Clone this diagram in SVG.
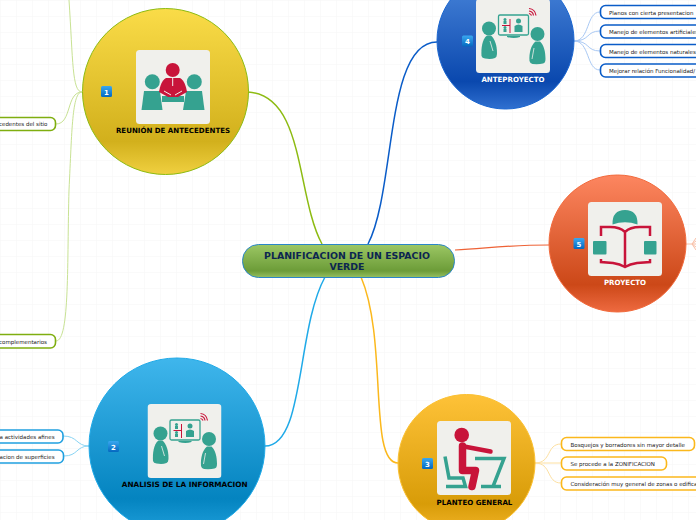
<svg xmlns="http://www.w3.org/2000/svg" xmlns:xlink="http://www.w3.org/1999/xlink" width="696" height="520" viewBox="0 0 696 520">
<style>
text{font-family:"DejaVu Sans",Verdana,sans-serif}
.t{font-size:5.5px;fill:#222;font-weight:400}
.l{font-size:7.05px;font-weight:700;text-anchor:middle}
.b{fill:#fff;stroke-width:1.6}
.n{font-size:7px;font-weight:700;fill:#fff;text-anchor:middle}
.teal{fill:#35a290}
.red{fill:#c8143a}
</style>
<defs>
<pattern id="grid" width="16" height="16" patternUnits="userSpaceOnUse"><path d="M16 0H0V16" fill="none" stroke="#f5f5f5" stroke-width="1"/></pattern>
<linearGradient id="g0" x1="0" y1="0" x2="0" y2="1"><stop offset="0" stop-color="#9cc764"/><stop offset=".8" stop-color="#6c9c38"/><stop offset="1" stop-color="#96c060"/></linearGradient>
<linearGradient id="g1" x1="0" y1="0" x2="0" y2="1"><stop offset="0" stop-color="#fadc48"/><stop offset=".8" stop-color="#d2b01c"/><stop offset="1" stop-color="#f0d040"/></linearGradient>
<linearGradient id="g2" x1="0" y1="0" x2="0" y2="1"><stop offset="0" stop-color="#3fb6ec"/><stop offset=".8" stop-color="#0484c0"/><stop offset="1" stop-color="#20a0dc"/></linearGradient>
<linearGradient id="g3" x1="0" y1="0" x2="0" y2="1"><stop offset="0" stop-color="#fec238"/><stop offset=".8" stop-color="#d89c08"/><stop offset="1" stop-color="#f2b428"/></linearGradient>
<linearGradient id="g4" x1="0" y1="0" x2="0" y2="1"><stop offset="0" stop-color="#4c88dc"/><stop offset=".8" stop-color="#0a48ae"/><stop offset="1" stop-color="#3070d0"/></linearGradient>
<linearGradient id="g5" x1="0" y1="0" x2="0" y2="1"><stop offset="0" stop-color="#fd8660"/><stop offset=".8" stop-color="#cc4818"/><stop offset="1" stop-color="#ee6a40"/></linearGradient>
<linearGradient id="bd" x1="0" y1="0" x2="0" y2="1"><stop offset="0" stop-color="#3aa8f0"/><stop offset="1" stop-color="#0468c0"/></linearGradient>
<symbol id="icon2" viewBox="0 0 74 74" width="74" height="74">
<rect width="74" height="74" rx="3.500" fill="#f0f0ec"/>
<circle class="teal" cx="13" cy="29.500" r="7"/>
<path class="teal" d="M11 36.500C6 40 5 50 5.500 57Q6 59 9 59.500Q15 60.500 19 59Q21 58 21 54C21 47 19 40 15 36.500Z"/>
<path d="M14 42L17 52" stroke="#f0f0ec" stroke-width=".8" fill="none"/>
<circle class="teal" cx="61.500" cy="35" r="7"/>
<path class="teal" d="M59.500 42.500C55 46 53 54 53.500 62Q54 64.500 56.500 65Q63 65.500 67 64.500Q69.500 64 69.500 60C69.500 53 68 46 64 42.500Z"/>
<path d="M58 49L56 60" stroke="#f0f0ec" stroke-width=".8" fill="none"/>
<rect x="22.500" y="16" width="30" height="20" rx="1.500" fill="#f0f0ec" stroke="#35a290" stroke-width="1.300"/>
<path class="teal" d="M31 37H44V38Q38 40 31 38Z"/>
<path d="M26 26.500H34M34 20V34" fill="none" stroke="#c8143a" stroke-width="1"/>
<circle class="teal" cx="29" cy="20.500" r="1.500"/><rect class="teal" x="27.500" y="22" width="3" height="3"/>
<circle class="teal" cx="29" cy="28.500" r="1.500"/><rect class="teal" x="27.500" y="30" width="3" height="3"/>
<circle class="teal" cx="42.500" cy="22" r="2.500"/><path class="teal" d="M38.500 33V27Q42.500 24 46.500 27V33Z"/>
<path d="M53 9.500Q59 10 60 16.500M53 12Q57 12.500 57.500 16.500M53 14.500Q55 15 55.500 16.500" fill="none" stroke="#c8143a" stroke-width="1.200"/>
</symbol>
</defs>
<rect width="696" height="520" fill="#fff"/>
<rect width="696" height="520" fill="url(#grid)"/>

<g id="connectors">
<path d="M322 244C296 196 305 95 248 92" stroke="#8dbb12" stroke-width="1.500" fill="none"/>
<path d="M368 244C396 190 385 42 437 42" stroke="#0a5cc8" stroke-width="1.500" fill="none"/>
<path d="M455 250C490 248 510 245 549 245" stroke="#ee6236" stroke-width="1.200" fill="none"/>
<path d="M325 277C296 330 305 446 265 446" stroke="#20aae8" stroke-width="1.500" fill="none"/>
<path d="M361 277C388 340 368 463 398 463" stroke="#fbb81c" stroke-width="1.500" fill="none"/>
<g fill="none" stroke="#c8e294" stroke-width="1">
<path d="M82 92C72 92 73 60 69 0"/>
<path d="M82 92C66 92 72 124 56 124"/>
<path d="M82 92C72 92 72 130 69 190C67 260 70 341 56 341"/>
</g>
<g fill="none" stroke="#88d4f4" stroke-width="1">
<path d="M89 446C76 446 78 436 63 436"/>
<path d="M89 446C76 446 78 456 64 456"/>
</g>
<g fill="none" stroke="#fde0a0" stroke-width="1">
<path d="M535 463C552 463 546 444 561 444"/>
<path d="M535 463H561"/>
<path d="M535 463C552 463 546 483 561 483"/>
</g>
<g fill="none" stroke="#a8c8f4" stroke-width="1">
<path d="M574 41C590 41 586 12 600 12"/>
<path d="M574 41C590 41 586 31 600 31"/>
<path d="M574 41C590 41 586 51 600 51"/>
<path d="M574 41C590 41 586 70 600 70"/>
</g>
<g fill="none" stroke="#f8c0a8" stroke-width="1">
<path d="M686 244H692L696 238M692 244L696 241M692 244H696M692 244L696 247M692 244L696 250"/>
</g>
</g>

<g id="center">
<rect x="242.500" y="244.500" width="212" height="33" rx="16" fill="url(#g0)" stroke="#2a86c8" stroke-width="1"/>
<text x="347" y="259.300" font-weight="700" fill="#0c2650" text-anchor="middle" style="font-size:9.400px">PLANIFICACION DE UN ESPACIO</text>
<text x="347" y="270.300" font-weight="700" fill="#0c2650" text-anchor="middle" style="font-size:9.400px">VERDE</text>
</g>

<g id="node1">
<circle cx="165.500" cy="91.500" r="83" fill="url(#g1)" stroke="#8dbb12" stroke-width="1"/>
<rect x="136" y="50" width="74" height="74" rx="3.500" fill="#f0f0ec"/>
<circle class="teal" cx="152.300" cy="81.700" r="7.500"/><circle class="teal" cx="194.300" cy="81.700" r="7.500"/>
<path class="teal" d="M144 91H160L162.500 110H141.500Z"/><path class="teal" d="M186 91H202L204.500 110H183Z"/>
<rect class="teal" x="162" y="96" width="22" height="6"/>
<circle class="red" cx="172.700" cy="70" r="7"/>
<path class="red" d="M166 78H180C184 80 186 86 187 92L178 97H168L159 92C160 86 162 80 166 78Z"/>
<path d="M164 91L171 95M182 91L175 95" stroke="#f0f0ec" stroke-width="1" fill="none"/>
<path d="M172.700 78V86" stroke="#f0f0ec" stroke-width="1"/>
<text class="l" x="173" y="133">REUNIÓN DE ANTECEDENTES</text>
<rect x="101" y="86" width="11" height="11" rx="1.500" fill="url(#bd)"/><text class="n" x="106.500" y="94.500">1</text>
</g>
<g id="sub1a"><rect class="b" x="-20" y="117.500" width="75.500" height="13" rx="5" stroke="#7fae10"/><text class="t" x="47.500" y="126" text-anchor="end">cedentes del sitio</text></g>
<g id="sub1b"><rect class="b" x="-20" y="334.500" width="75.500" height="13.500" rx="5" stroke="#7fae10"/><text class="t" x="47" y="343.500" text-anchor="end">complementarios</text></g>

<g id="node2">
<circle cx="177" cy="446" r="88" fill="url(#g2)" stroke="#20aae8" stroke-width="1"/>
<use xlink:href="#icon2" href="#icon2" x="147.500" y="404"/>
<text class="l" x="184.700" y="487" fill="#000" style="font-size:7.300px">ANALISIS DE LA INFORMACION</text>
<rect x="108" y="441" width="11" height="11" rx="1.500" fill="url(#bd)"/><text class="n" x="113.500" y="449.500">2</text>
</g>
<g id="sub2a"><rect class="b" x="-20" y="430" width="83" height="13" rx="5" stroke="#20a0e0"/><text class="t" x="54.500" y="439" text-anchor="end">a actividades afines</text></g>
<g id="sub2b"><rect class="b" x="-20" y="450" width="83.500" height="13" rx="5" stroke="#20a0e0"/><text class="t" x="54.500" y="459" text-anchor="end">acion de superficies</text></g>

<g id="node3">
<circle cx="466.500" cy="463" r="68.500" fill="url(#g3)" stroke="#fbc030" stroke-width="1"/>
<rect x="437" y="421" width="74" height="74" rx="3.500" fill="#f0f0ec"/>
<path d="M445 456.500L449 478H463L465.500 486.500H446" fill="none" stroke="#35a290" stroke-width="3.500"/>
<path d="M475 458.500H504L493 486.500M481 486.500H501" fill="none" stroke="#35a290" stroke-width="3.500"/>
<circle class="red" cx="461.700" cy="435" r="7.300"/>
<path d="M462.500 446V470.500H475.500L472 486.500" fill="none" stroke="#c8143a" stroke-width="7.500" stroke-linecap="round" stroke-linejoin="round"/>
<path d="M464 446.500L490.500 451.500" fill="none" stroke="#c8143a" stroke-width="4.500" stroke-linecap="round"/>
<text class="l" x="474.500" y="505" fill="#000">PLANTEO GENERAL</text>
<rect x="422" y="458" width="11" height="11" rx="1.500" fill="url(#bd)"/><text class="n" x="427.500" y="466.500">3</text>
</g>
<g id="sub3a"><rect class="b" x="561.500" y="437.500" width="133" height="13" rx="5" stroke="#fbb81c"/><text class="t" x="570.500" y="447">Bosquejos y borradores sin mayor detalle</text></g>
<g id="sub3b"><rect class="b" x="561.500" y="457" width="105" height="13" rx="5" stroke="#fbb81c"/><text class="t" x="570.500" y="466">Se procede a la ZONIFICACION</text></g>
<g id="sub3c"><rect class="b" x="561.500" y="477" width="160" height="13" rx="5" stroke="#fbb81c"/><text class="t" x="570.500" y="486">Consideración muy general de zonas o edifica</text></g>

<g id="node4">
<circle cx="505.500" cy="40.500" r="68.500" fill="url(#g4)" stroke="#1a66d0" stroke-width="1"/>
<use xlink:href="#icon2" href="#icon2" x="476" y="-1"/>
<text class="l" x="513" y="82" fill="#fff">ANTEPROYECTO</text>
<rect x="462" y="35.500" width="11" height="11" rx="1.500" fill="url(#bd)"/><text class="n" x="467.500" y="44">4</text>
</g>
<g id="sub4a"><rect class="b" x="600.500" y="5.500" width="110" height="13" rx="5" stroke="#0a5cc8"/><text class="t" x="609" y="15">Planos con cierta presentacion</text></g>
<g id="sub4b"><rect class="b" x="600.500" y="25" width="110" height="13" rx="5" stroke="#0a5cc8"/><text class="t" x="609" y="34">Manejo de elementos artificiales</text></g>
<g id="sub4c"><rect class="b" x="600.500" y="44.500" width="110" height="13" rx="5" stroke="#0a5cc8"/><text class="t" x="609" y="54">Manejo de elementos naturales</text></g>
<g id="sub4d"><rect class="b" x="600.500" y="64" width="130" height="13" rx="5" stroke="#0a5cc8"/><text class="t" x="609" y="73">Mejorar relación Funcionalidad/</text></g>

<g id="node5">
<circle cx="617.500" cy="243.500" r="68.500" fill="url(#g5)" stroke="#f26a3c" stroke-width="1"/>
<rect x="588" y="202" width="74" height="74" rx="3.500" fill="#f0f0ec"/>
<path class="teal" d="M612.500 224.500Q612 210 625 210Q638 210 637.500 224.500Q625 220 612.500 224.500Z"/>
<rect class="teal" x="593" y="241" width="13.500" height="13.500" rx="1"/>
<rect class="teal" x="644" y="241" width="12.500" height="13.500" rx="1"/>
<path d="M601 236V227H610Q620 227 625 232Q630 227 640 227H650V236M625 232V266M601 259V262L613 263Q620 264 625 267Q630 264 637 263L650 262V259" fill="none" stroke="#c8143a" stroke-width="2.500"/>
<text class="l" x="625" y="285" fill="#fff">PROYECTO</text>
<rect x="573.500" y="238" width="11" height="11" rx="1.500" fill="url(#bd)"/><text class="n" x="579" y="246.500">5</text>
</g>
</svg>
